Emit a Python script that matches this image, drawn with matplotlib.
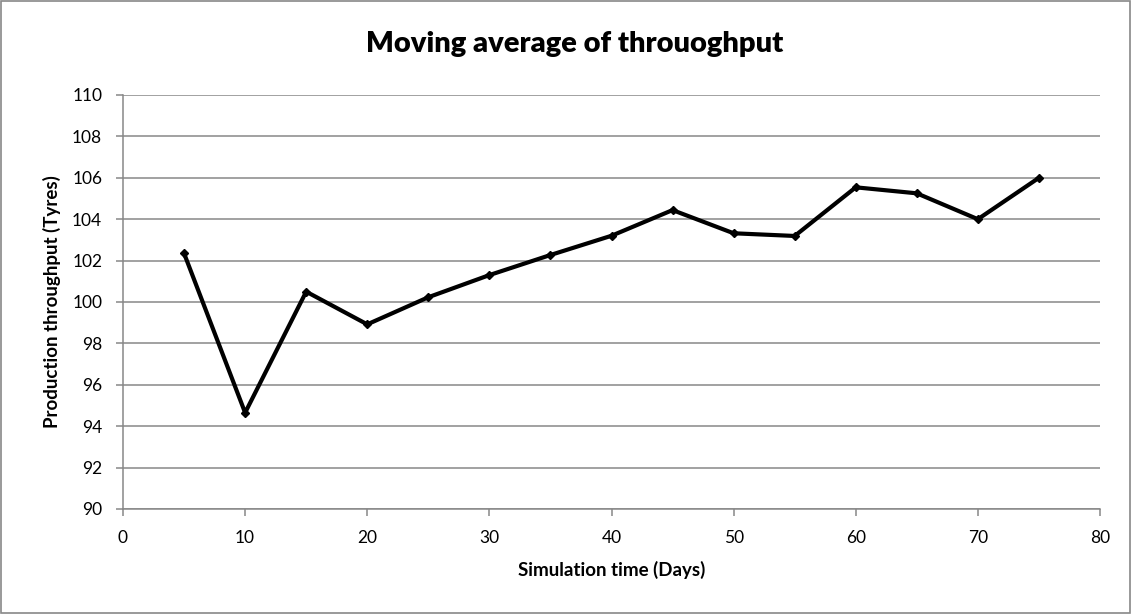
import matplotlib
matplotlib.use("Agg")
import matplotlib.pyplot as plt
from matplotlib.patches import Rectangle

days = [5, 10, 15, 20, 25, 30, 35, 40, 45, 50, 55, 60, 65, 70, 75]
throughput = [102.35, 94.65, 100.50, 98.92, 100.23, 101.30, 102.27, 103.20,
              104.44, 103.32, 103.19, 105.54, 105.25, 104.00, 106.00]
x_ticks = [0, 10, 20, 30, 40, 50, 60, 70, 80]
y_ticks = [90, 92, 94, 96, 98, 100, 102, 104, 106, 108, 110]

plt.rcParams['font.family'] = ['Lato', 'DejaVu Sans']

fig = plt.figure(figsize=(11.32, 6.14), dpi=100)
ax = fig.add_axes([123/1132, 1-509/614, (1100-123)/1132, (509-95)/614])

grid_c = '#878787'
ax.plot(days, throughput, color='black', lw=3.0, marker='D', ms=4.5,
        markerfacecolor='black', markeredgecolor='black', zorder=3)

ax.set_xlim(0, 80)
ax.set_ylim(90, 110)
ax.set_xticks(x_ticks)
ax.set_yticks(y_ticks)
ax.yaxis.grid(True, color=grid_c, lw=1.1)
ax.set_axisbelow(True)
for s in ['top', 'right']:
    ax.spines[s].set_visible(False)
for s in ['left', 'bottom']:
    ax.spines[s].set_color(grid_c)
    ax.spines[s].set_linewidth(1.1)
ax.tick_params(axis='both', colors=grid_c, length=5, width=1.1, labelsize=12.5,
               labelcolor='black')
ax.tick_params(axis='x', pad=10)
ax.tick_params(axis='y', pad=10)

ax.set_xlabel('Simulation time (Days)', fontsize=13.5, fontweight='bold', labelpad=11)
ax.yaxis.set_label_coords(-0.063, 0.49)
ax.set_ylabel('Production throughput (Tyres)', fontsize=13.5, fontweight='bold')
fig.text(575/1132, 1-44/614, 'Moving average of throuoghput', fontsize=21,
         fontweight='heavy', ha='center', va='center')

fig.patches.append(Rectangle((0.0005, 0.001), 0.998, 0.997, transform=fig.transFigure,
                             fill=False, edgecolor='#888888', lw=1.2))

fig.savefig('out.png', dpi=100)
